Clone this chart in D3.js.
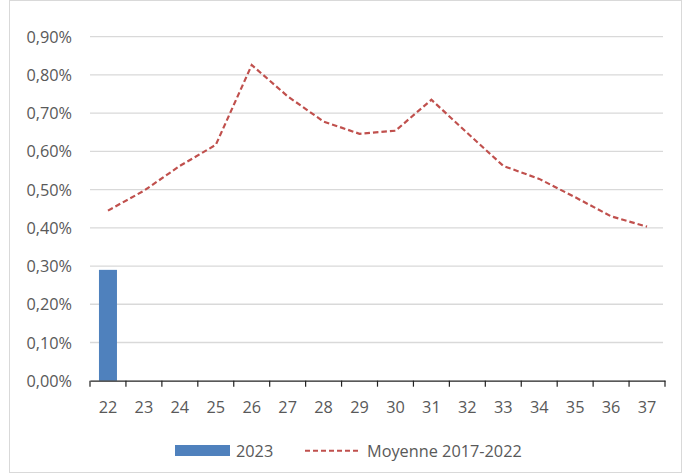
<!DOCTYPE html>
<html><head><meta charset="utf-8">
<script src="https://cdn.jsdelivr.net/npm/d3@7"></script>
<style>body{margin:0;background:#fff}svg{display:block}text{font-family:"Open Sans","Liberation Sans",sans-serif;fill:#595959}</style>
</head><body><svg id="c" width="683" height="474"></svg>
<script>
const weeks = ["22","23","24","25","26","27","28","29","30","31","32","33","34","35","36","37"];
const bars2023 = [0.29];
const moyenne = [0.445,0.497,0.562,0.617,0.826,0.744,0.678,0.646,0.654,0.735,0.648,0.562,0.528,0.480,0.430,0.403];
const yTicks = [0,0.1,0.2,0.3,0.4,0.5,0.6,0.7,0.8,0.9];
const legendLabels = ["2023","Moyenne 2017-2022"];

const FS = 16.3;
const svg = d3.select("#c");
svg.append("rect").attr("x",9.5).attr("y",0.5).attr("width",672).attr("height",472)
  .attr("fill","none").attr("stroke","#d9d9d9");
const m = {l:90, r:665, t:36.7, b:380.7};
const x = d3.scaleBand().domain(weeks).range([m.l,m.r]).paddingInner(0).paddingOuter(0);
const y = d3.scaleLinear().domain([0,0.9]).range([m.b,m.t]);
const fmt = d => d3.format(".2f")(d).replace(".",",")+"%";

svg.append("g").selectAll("line").data(yTicks.slice(1)).join("line")
  .attr("x1",m.l).attr("x2",m.r-2).attr("y1",d=>y(d)).attr("y2",d=>y(d))
  .attr("stroke","#d9d9d9").attr("stroke-width",1.3);

const ya = svg.append("g").attr("transform",`translate(${m.l},0)`)
  .call(d3.axisLeft(y).tickValues(yTicks).tickFormat(fmt).tickSize(0).tickPadding(18));
ya.select(".domain").remove();
ya.selectAll("text").attr("font-size",FS).attr("dy","0.34em").attr("fill","#595959");

// bars
const bw = 18;
svg.append("g").selectAll("rect").data(bars2023).join("rect")
  .attr("x",(d,i)=>x(weeks[i])+x.bandwidth()/2-bw/2).attr("width",bw)
  .attr("y",d=>y(d)).attr("height",d=>y(0)-y(d)).attr("fill","#4f81bd");

// line
const line = d3.line().x((d,i)=>x(weeks[i])+x.bandwidth()/2).y(d=>y(d));
svg.append("path").datum(moyenne).attr("d",line).attr("fill","none")
  .attr("stroke","#c0504d").attr("stroke-width",2.2).attr("stroke-dasharray","5.5,3");

// x axis
const xa = svg.append("g").attr("transform",`translate(0,${m.b})`)
  .call(d3.axisBottom(x).tickSize(0));
xa.select(".domain").attr("stroke","#222").attr("stroke-width",1.2);
xa.selectAll("text").attr("font-size",FS).attr("y",32).attr("dy",0).attr("fill","#595959");
const bounds = weeks.map(w=>x(w)).concat([m.r]);
svg.append("g").selectAll("line").data(bounds).join("line")
  .attr("x1",d=>d).attr("x2",d=>d).attr("y1",m.b).attr("y2",m.b+6)
  .attr("stroke","#222").attr("stroke-width",1.2);

// legend
const lg = svg.append("g");
lg.append("rect").attr("x",175).attr("y",445).attr("width",55).attr("height",11).attr("fill","#4f81bd");
lg.append("text").attr("x",236).attr("y",456.5).attr("font-size",FS).text(legendLabels[0]);
lg.append("line").attr("x1",305).attr("x2",360).attr("y1",450.7).attr("y2",450.7)
  .attr("stroke","#c0504d").attr("stroke-width",2).attr("stroke-dasharray","5,3");
lg.append("text").attr("x",367).attr("y",456.5).attr("font-size",FS).text(legendLabels[1]);
</script></body></html>
